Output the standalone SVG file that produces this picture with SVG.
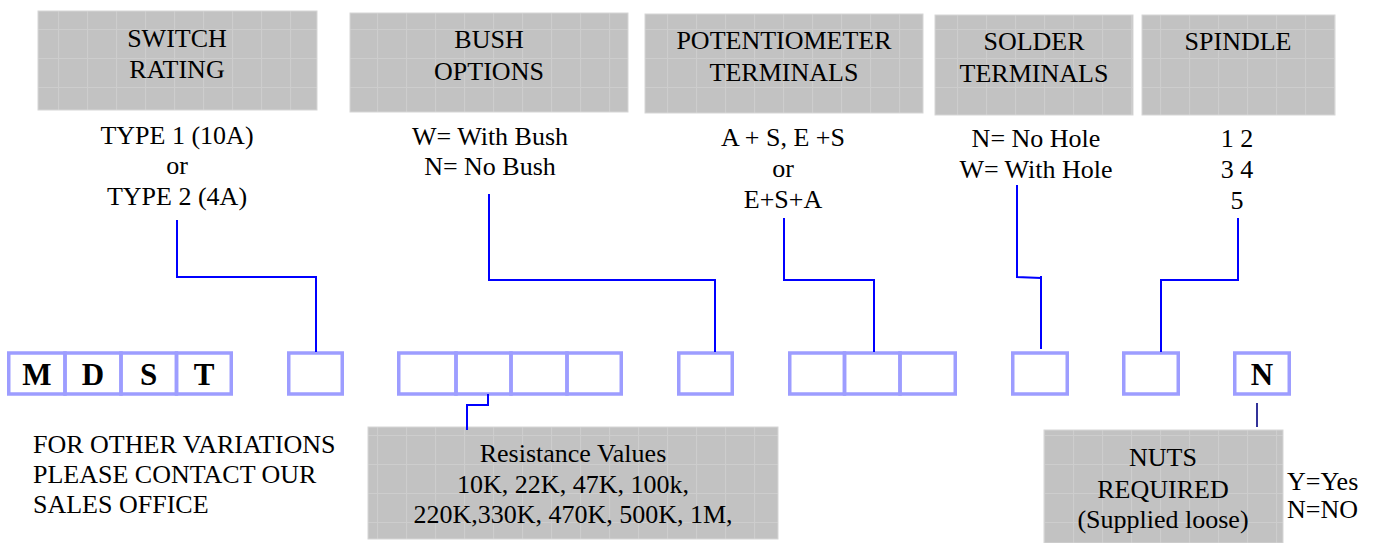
<svg xmlns="http://www.w3.org/2000/svg" width="1377" height="543" viewBox="0 0 1377 543">
<defs>
<pattern id="grid" width="29" height="29" patternUnits="userSpaceOnUse">
<rect width="29" height="29" fill="#c2c2c2"/>
<path d="M0,0.5 H29 M0.5,0 V29" stroke="#cdcdcd" stroke-width="1.2" fill="none"/>
</pattern>
<style>
.g{fill:url(#grid);stroke:#d6d6d6;stroke-width:1}
.t{font-family:"Liberation Serif","Times New Roman",serif;font-size:26px;fill:#000;text-anchor:middle}
.l{text-anchor:start}
.b{fill:none;stroke:#9d9dff;stroke-width:3.5}
.bl{font-family:"Liberation Serif","Times New Roman",serif;font-size:31px;font-weight:bold;fill:#000;text-anchor:middle}
.c{fill:none;stroke:#0000ff;stroke-width:2}
.cn{fill:none;stroke:#333399;stroke-width:2}
</style>
</defs>
<rect width="1377" height="543" fill="#ffffff"/>

<g id="switch-rating">
<rect class="g" x="38" y="11" width="279" height="99"/>
<text class="t" x="177" y="47">SWITCH</text>
<text class="t" x="177" y="78">RATING</text>
<text class="t" x="177" y="144">TYPE 1 (10A)</text>
<text class="t" x="177" y="174">or</text>
<text class="t" x="177" y="205">TYPE 2 (4A)</text>
</g>

<g id="bush-options">
<rect class="g" x="350" y="13" width="278" height="99"/>
<text class="t" x="489" y="48">BUSH</text>
<text class="t" x="489" y="80">OPTIONS</text>
<text class="t" x="490" y="145">W= With Bush</text>
<text class="t" x="490" y="175">N= No Bush</text>
</g>

<g id="potentiometer-terminals">
<rect class="g" x="645" y="14" width="278" height="99"/>
<text class="t" x="784" y="49">POTENTIOMETER</text>
<text class="t" x="784" y="81">TERMINALS</text>
<text class="t" x="783" y="146">A + S, E +S</text>
<text class="t" x="783" y="177">or</text>
<text class="t" x="783" y="208">E+S+A</text>
</g>

<g id="solder-terminals">
<rect class="g" x="935" y="15" width="198" height="100"/>
<text class="t" x="1034" y="50">SOLDER</text>
<text class="t" x="1034" y="82">TERMINALS</text>
<text class="t" x="1036" y="147">N= No Hole</text>
<text class="t" x="1036" y="178">W= With Hole</text>
</g>

<g id="spindle">
<rect class="g" x="1142" y="15" width="193" height="100"/>
<text class="t" x="1238" y="50">SPINDLE</text>
<text class="t" x="1237" y="147">1 2</text>
<text class="t" x="1237" y="178">3 4</text>
<text class="t" x="1237" y="209">5</text>
</g>

<g id="code-mdst">
<rect class="b" x="8.75" y="353" width="56.25" height="41"/>
<rect class="b" x="65" y="353" width="56" height="41"/>
<rect class="b" x="121" y="353" width="55.5" height="41"/>
<rect class="b" x="176.5" y="353" width="54.75" height="41"/>
<text class="bl" x="37" y="385">M</text>
<text class="bl" x="93" y="385">D</text>
<text class="bl" x="148.5" y="385">S</text>
<text class="bl" x="204" y="385">T</text>
</g>

<g id="box-switch">
<rect class="b" x="288.75" y="353" width="53.5" height="41"/>
</g>

<g id="box-resistance">
<rect class="b" x="398.75" y="353" width="57.25" height="41"/>
<rect class="b" x="456" y="353" width="55" height="41"/>
<rect class="b" x="511" y="353" width="56" height="41"/>
<rect class="b" x="567" y="353" width="54.25" height="41"/>
</g>

<g id="box-bush">
<rect class="b" x="678.75" y="353" width="53.5" height="41"/>
</g>

<g id="box-pot">
<rect class="b" x="789.75" y="353" width="54.75" height="41"/>
<rect class="b" x="844.5" y="353" width="55.5" height="41"/>
<rect class="b" x="900" y="353" width="55.25" height="41"/>
</g>

<g id="box-solder">
<rect class="b" x="1012.75" y="353" width="54.5" height="41"/>
</g>

<g id="box-spindle">
<rect class="b" x="1123.75" y="353" width="54.5" height="41"/>
</g>

<g id="box-nuts">
<rect class="b" x="1234.75" y="353" width="54.5" height="41"/>
<text class="bl" x="1262" y="385">N</text>
</g>

<g id="note">
<text class="t l" x="33" y="453">FOR OTHER VARIATIONS</text>
<text class="t l" x="33" y="483">PLEASE CONTACT OUR</text>
<text class="t l" x="33" y="513">SALES OFFICE</text>
</g>

<g id="resistance-values">
<rect class="g" x="368" y="427" width="410" height="112"/>
<text class="t" x="573" y="462">Resistance Values</text>
<text class="t" x="573" y="493">10K, 22K, 47K, 100k,</text>
<text class="t" x="573" y="523">220K,330K, 470K, 500K, 1M,</text>
</g>

<g id="nuts-required">
<rect class="g" x="1044" y="430" width="239" height="113"/>
<text class="t" x="1163" y="466">NUTS</text>
<text class="t" x="1163" y="498">REQUIRED</text>
<text class="t" x="1163" y="528">(Supplied loose)</text>
<text class="t l" x="1287" y="490">Y=Yes</text>
<text class="t l" x="1287" y="518">N=NO</text>
</g>

<g id="connectors">
<path class="c" d="M177,220 V277 H316 V352"/>
<path class="c" d="M489,194 V280 H715 V352"/>
<path class="c" d="M784,218 V280 H874 V352"/>
<path class="c" d="M1017,185 V277 L1041,278 M1041,276 V349"/>
<path class="c" d="M1238,218 V280 H1161 V352"/>
<path class="c" d="M488,394 V405 H467 V430"/>
<path class="cn" d="M1257,403 V427"/>
</g>
</svg>
